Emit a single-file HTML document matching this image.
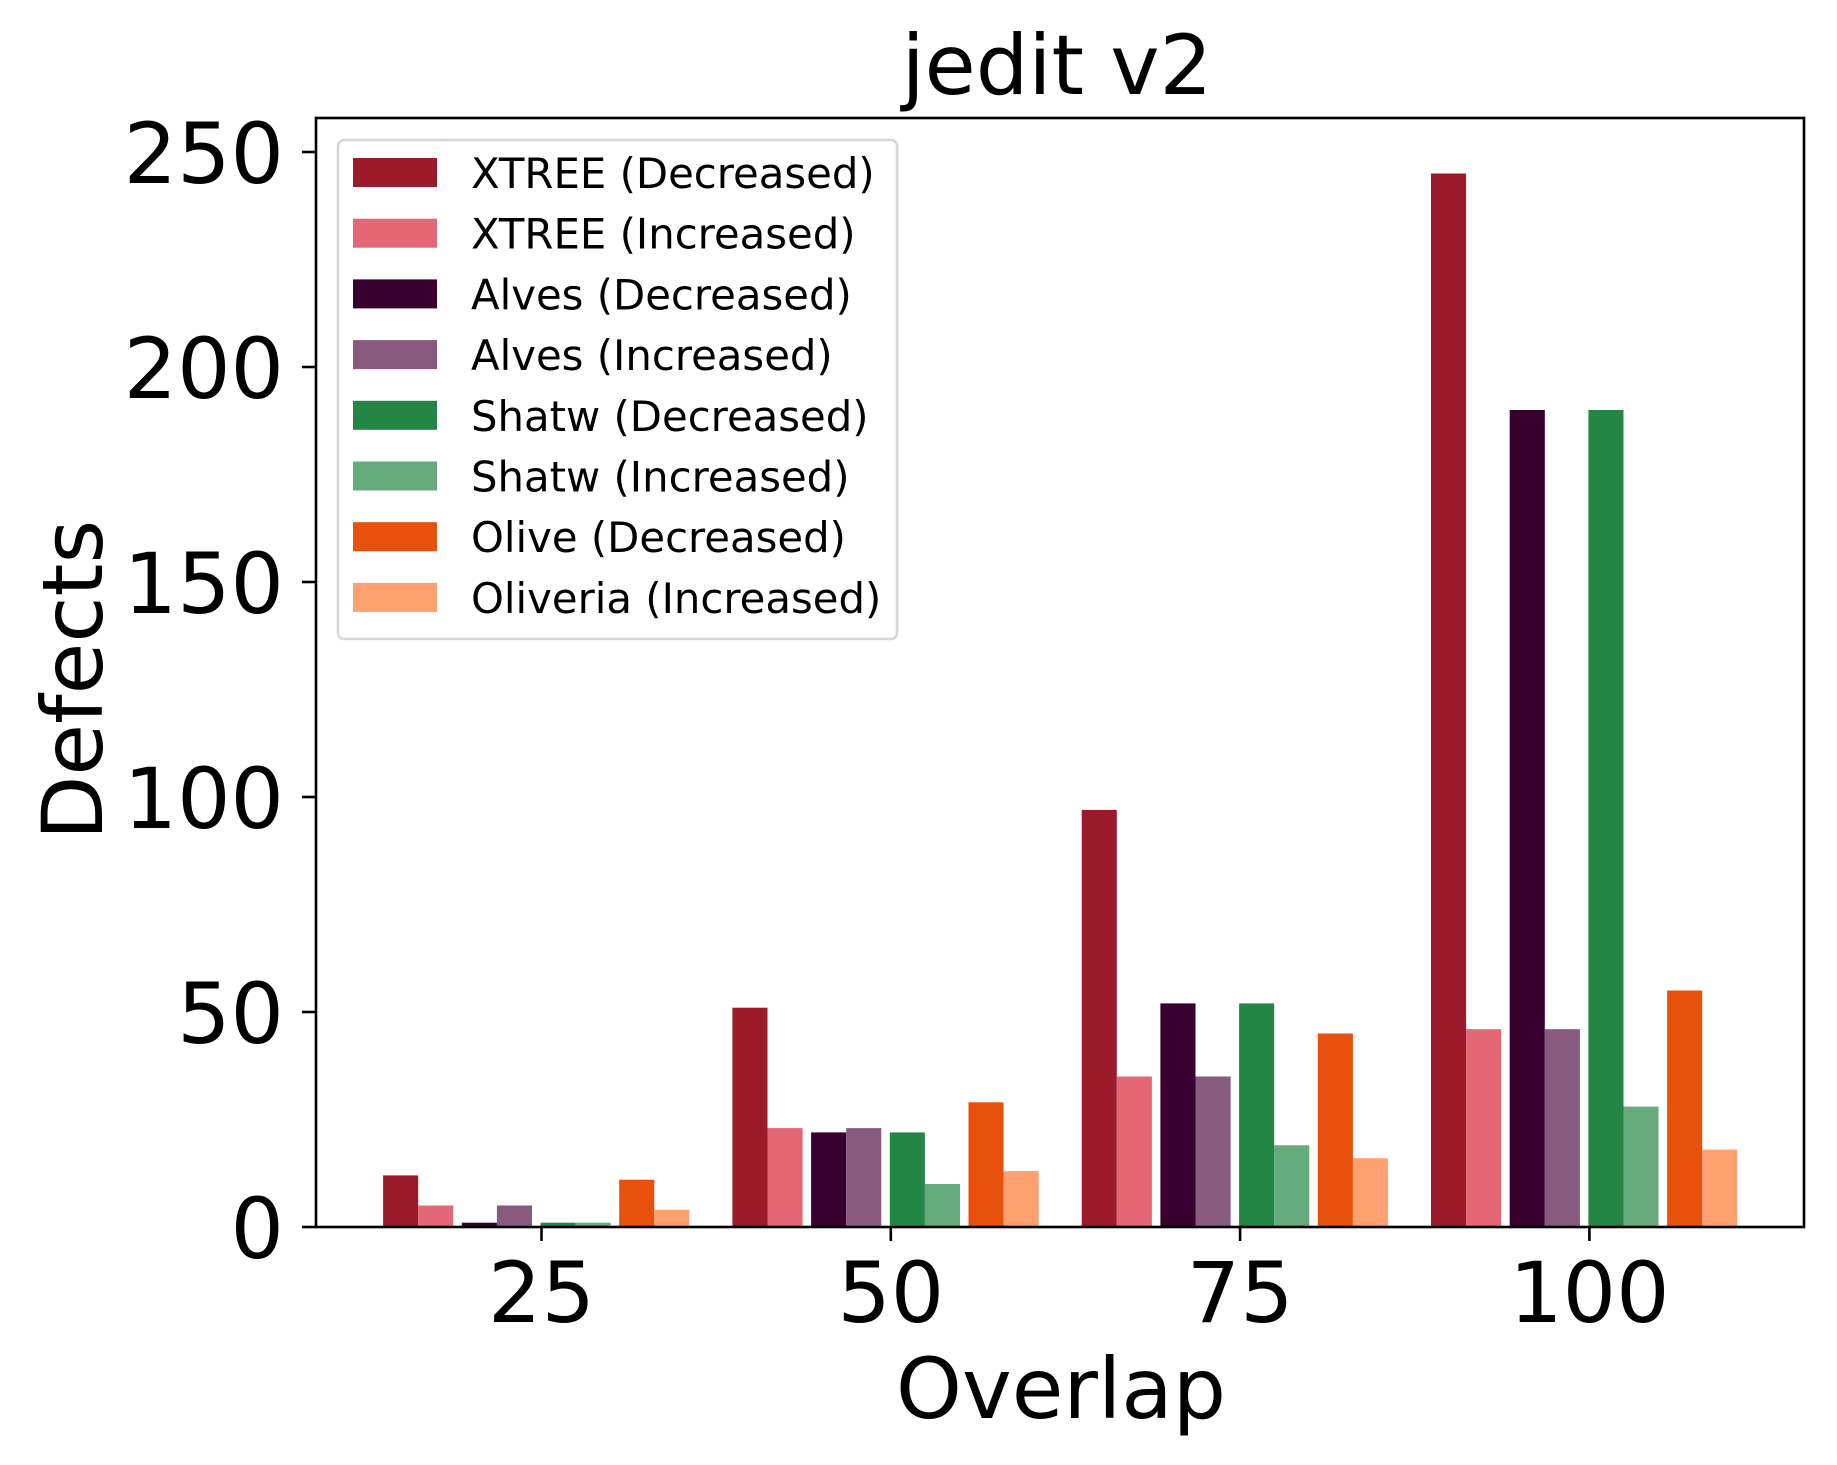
<!DOCTYPE html>
<html><head><meta charset="utf-8"><style>
html,body{margin:0;padding:0;background:#fff}
svg{display:block}
text{font-family:"DejaVu Sans","Liberation Sans",sans-serif;fill:#000}
</style></head><body>
<svg id="chart" width="1837" height="1465" xmlns="http://www.w3.org/2000/svg">
<text x="1057" y="94" font-size="83" text-anchor="middle">jedit v2</text>
<g id="bars"></g>
<g id="axes"></g>
<text x="1061" y="1418" font-size="84" text-anchor="middle">Overlap</text>
<text x="0" y="0" font-size="84" text-anchor="middle" transform="translate(102,680) rotate(-90)">Defects</text>
<g id="legend"></g>
</svg>
<script>
const categories = [25, 50, 75, 100];
const seriesNames = ["XTREE (Decreased)","XTREE (Increased)","Alves (Decreased)","Alves (Increased)","Shatw (Decreased)","Shatw (Increased)","Olive (Decreased)","Oliveria (Increased)"];
const seriesColors = ["#9b1b2a","#e36774","#38002f","#875a7e","#238645","#66ab7b","#e8510c","#ffa070"];
const xtreeDec = [12, 51, 97, 245];
const xtreeInc = [5, 23, 35, 46];
const alvesDec = [1, 22, 52, 190];
const alvesInc = [5, 23, 35, 46];
const shatwDec = [1, 22, 52, 190];
const shatwInc = [1, 10, 19, 28];
const oliveDec = [11, 29, 45, 55];
const oliveInc = [4, 13, 16, 18];
const yTicks = [0, 50, 100, 150, 200, 250];
const seriesValues = [xtreeDec, xtreeInc, alvesDec, alvesInc, shatwDec, shatwInc, oliveDec, oliveInc];

const NS = "http://www.w3.org/2000/svg";
const L = 316, R = 1804, T = 118, B = 1227;
function xScale(c){ return 541.5 + (c - 25) * (349.3 / 25); }
function yScale(v){ return B - v * (1075 / 250); }
const barW = 35.1, pairStride = 78.7;
function mk(tag, attrs, parent){ const e = document.createElementNS(NS, tag); for (const k in attrs) e.setAttribute(k, attrs[k]); parent.appendChild(e); return e; }

const bars = document.getElementById('bars');
seriesValues.forEach((vals, s) => {
  vals.forEach((v, i) => {
    const pair = Math.floor(s / 2), sub = s % 2;
    const x = xScale(categories[i]) + (pair - 2) * pairStride - 1 + sub * barW;
    const r = mk('rect', {x: x, y: yScale(v), width: barW, height: B - yScale(v), fill: seriesColors[s]}, bars);
    
    
  });
});

const axes = document.getElementById('axes');
const frame = mk('rect', {x: L, y: T, width: R - L, height: B - T, fill: 'none', stroke: '#000', 'stroke-width': 2.6}, axes);


categories.forEach(c => {
  const x = xScale(c);
  const t = mk('line', {x1: x, x2: x, y1: B, y2: B + 14, stroke: '#000', 'stroke-width': 2.6}, axes);
  
  
  const lb = mk('text', {x: x, y: 1322, 'font-size': 84, 'text-anchor': 'middle'}, axes);
  lb.textContent = c;
  
  
});
yTicks.forEach(v => {
  const y = yScale(v);
  const t = mk('line', {x1: L - 14, x2: L, y1: y, y2: y, stroke: '#000', 'stroke-width': 2.6}, axes);
  
  
  const lb = mk('text', {x: 284, y: y + 31, 'font-size': 84, 'text-anchor': 'end'}, axes);
  lb.textContent = v;
  
  
});

const legend = document.getElementById('legend');
const box = mk('rect', {x: 338, y: 140, width: 559, height: 499, rx: 6, fill: '#fff', 'fill-opacity': 0.85, stroke: '#d6d6d6', 'stroke-width': 2.5}, legend);


seriesNames.forEach((n, s) => {
  const y = 158 + s * 60.7;
  const p = mk('rect', {x: 353, y: y, width: 84, height: 29, fill: seriesColors[s]}, legend);
  
  
  const t = mk('text', {x: 471, y: y + 30, 'font-size': 41.8}, legend);
  t.textContent = n;
  
  
});
</script>
</body></html>
